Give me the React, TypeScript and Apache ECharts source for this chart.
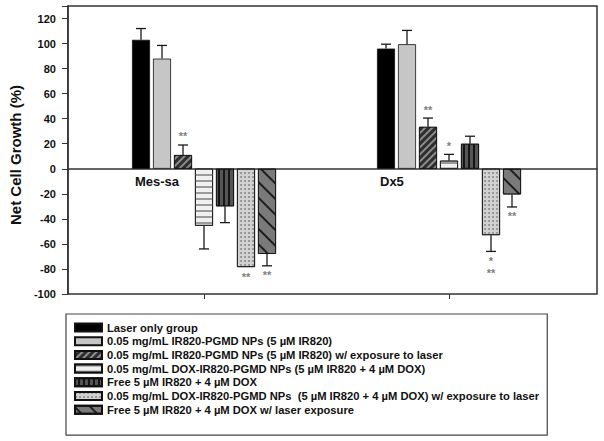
import React, { useEffect, useRef } from 'react';
import * as echarts from 'echarts';

const FONT = 'Arial, "Liberation Sans", Helvetica, sans-serif';

const categories = ['Mes-sa', 'Dx5'];
const seriesNames = [
  'Laser only group',
  '0.05 mg/mL IR820-PGMD NPs (5 µM IR820)',
  '0.05 mg/mL IR820-PGMD NPs (5 µM IR820) w/ exposure to laser',
  '0.05 mg/mL DOX-IR820-PGMD NPs (5 µM IR820 + 4 µM DOX)',
  'Free 5 µM IR820 + 4 µM DOX',
  '0.05 mg/mL DOX-IR820-PGMD NPs  (5 µM IR820 + 4 µM DOX) w/ exposure to laser',
  'Free 5 µM IR820 + 4 µM DOX w/ laser exposure',
];
const messaValues = [103, 88, 11, -45.5, -30, -78.5, -68];
const dx5Values = [96, 99.5, 33.5, 6.5, 20, -53, -20.5];
const messaErrors = [9, 10.5, 8, 18.5, 13, 0, 9.5];
const dx5Errors = [3.5, 11, 7, 5, 6, 13, 10];
const messaSig = ['', '', '**', '', '', '**', '**'];
const dx5Sig = ['', '', '**', '*', '', '*\n**', '**'];
const yMin = -100;
const yMax = 130;
const yInterval = 20;
const yLabelMax = 120;

const groupValues = [messaValues, dx5Values];
const groupErrors = [messaErrors, dx5Errors];
const groupSig = [messaSig, dx5Sig];

const BAR_W = 18;
const BAR_GAP = 3;

const seriesStyles: any[] = [
  { color: '#000000' },
  { color: '#c6c6c6' },
  {
    color: '#2e2e2e',
    decal: { symbol: 'rect', symbolSize: 1, color: '#8c8c8c', dashArrayX: [1, 0], dashArrayY: [1.5, 2.5], rotation: -Math.PI / 4 },
  },
  {
    color: '#f0f0f0',
    decal: { symbol: 'rect', symbolSize: 1, color: '#9a9a9a', dashArrayX: [1, 0], dashArrayY: [1.5, 3.5], rotation: 0 },
  },
  {
    color: '#555555',
    decal: { symbol: 'rect', symbolSize: 1, color: '#151515', dashArrayX: [1, 0], dashArrayY: [1.5, 2.5], rotation: Math.PI / 2 },
  },
  {
    color: '#d2d2d2',
    decal: { symbol: 'circle', symbolSize: 1, color: '#8e8e8e', dashArrayX: [1.6, 1.8], dashArrayY: [1.6, 1.8] },
  },
  {
    color: '#7a7a7a',
    decal: { symbol: 'rect', symbolSize: 1, color: '#1e1e1e', dashArrayX: [1, 0], dashArrayY: [1.5, 9], rotation: Math.PI / 4 },
  },
];

export default function App() {
  const ref = useRef<HTMLDivElement>(null);
  useEffect(() => {
    const chart = echarts.init(ref.current!, null, { renderer: 'svg' });

    const barSeries = seriesNames.map((name, i) => ({
      name,
      type: 'bar',
      xAxisIndex: 1,
      yAxisIndex: 1,
      data: groupValues.map((g) => g[i]),
      barWidth: BAR_W,
      barGap: `${(BAR_GAP / BAR_W) * 100}%`,
      itemStyle: {
        color: seriesStyles[i].color,
        decal: seriesStyles[i].decal || null,
        borderColor: '#111',
        borderWidth: 0.8,
      },
      z: 3,
    }));

    const errData: number[][] = [];
    groupValues.forEach((g, gi) => {
      g.forEach((v, si) => {
        errData.push([gi, si, v, groupErrors[gi][si]]);
      });
    });

    const errSeries = {
      type: 'custom',
      xAxisIndex: 1,
      yAxisIndex: 1,
      data: errData,
      encode: { x: 0, y: 2 },
      z: 5,
      renderItem: (params: any, api: any) => {
        const g = api.value(0);
        const s = api.value(1);
        const v = api.value(2);
        const e = api.value(3);
        const sign = v >= 0 ? 1 : -1;
        const c0 = api.coord([g, v]);
        const c1 = api.coord([g, v + sign * e]);
        const x = c0[0] + (s - 3) * (BAR_W + BAR_GAP);
        const children: any[] = [];
        if (e > 0) {
          children.push({
            type: 'line',
            shape: { x1: x, y1: c0[1], x2: x, y2: c1[1] },
            style: { stroke: '#1a1a1a', lineWidth: 1.3 },
          });
          children.push({
            type: 'line',
            shape: { x1: x - 5, y1: c1[1], x2: x + 5, y2: c1[1] },
            style: { stroke: '#1a1a1a', lineWidth: 1.3 },
          });
        }
        const sig = groupSig[g][s];
        if (sig) {
          const lines = sig.split('\n');
          lines.forEach((line, li) => {
            const y =
              sign > 0
                ? c1[1] - 4 - (lines.length - 1 - li) * 12
                : c1[1] + 5 + li * 12;
            children.push({
              type: 'text',
              x,
              y,
              style: {
                text: line,
                fill: '#808080',
                font: `bold 11px ${FONT}`,
                align: 'center',
                verticalAlign: sign > 0 ? 'bottom' : 'top',
                lineHeight: 9,
              },
            });
          });
        }
        return { type: 'group', children };
      },
    };

    const labelSeries = {
      type: 'custom',
      xAxisIndex: 1,
      yAxisIndex: 1,
      data: categories.map((c, i) => [i, 0]),
      encode: { x: 0, y: 1 },
      z: 6,
      renderItem: (params: any, api: any) => {
        const c = api.coord([api.value(0), 0]);
        const n = seriesNames.length;
        const total = n * BAR_W + (n - 1) * BAR_GAP;
        return {
          type: 'text',
          x: c[0] - total / 2 + 3,
          y: c[1] + 13,
          style: {
            text: categories[params.dataIndex],
            fill: '#111',
            font: `bold 13px ${FONT}`,
            align: 'left',
            verticalAlign: 'middle',
          },
        };
      },
    };

    const option: any = {
      animation: false,
      backgroundColor: '#ffffff',
      textStyle: { fontFamily: FONT },
      grid: [
        { left: 57, right: 7, top: 6, bottom: 147, show: true, borderColor: '#333', borderWidth: 1.5, backgroundColor: 'transparent' },
        { left: 81.5, right: 32.5, top: 6, bottom: 147 },
      ],
      xAxis: [
        {
          gridIndex: 0,
          type: 'value',
          min: 0,
          max: 1,
          axisLine: { show: true, onZero: true, lineStyle: { color: '#333', width: 1.5 } },
          axisTick: { show: false },
          axisLabel: { show: false },
          splitLine: { show: false },
        },
        {
          gridIndex: 1,
          type: 'category',
          data: categories,
          position: 'bottom',
          axisLine: { show: false, onZero: false },
          axisTick: { show: true, alignWithLabel: true, length: 5, lineStyle: { color: '#333', width: 1 } },
          axisLabel: { show: false },
          splitLine: { show: false },
        },
      ],
      yAxis: [
        {
          gridIndex: 0,
          type: 'value',
          min: yMin,
          max: yMax,
          interval: yInterval,
          name: 'Net Cell Growth (%)',
          nameLocation: 'middle',
          nameGap: 37,
          nameTextStyle: { fontSize: 15, fontWeight: 'bold', color: '#111', fontFamily: FONT, padding: [0, 10, 0, 0] },
          axisLine: { show: true, lineStyle: { color: '#333', width: 1.5 } },
          axisTick: { show: true, length: 6, lineStyle: { color: '#333', width: 1 } },
          axisLabel: {
            fontSize: 11,
            fontWeight: 'bold',
            color: '#111',
            fontFamily: FONT,
            margin: 12,
            formatter: (v: number) => (v > yLabelMax ? '' : String(v)),
          },
          splitLine: { show: false },
        },
        {
          gridIndex: 1,
          type: 'value',
          min: yMin,
          max: yMax,
          show: false,
          splitLine: { show: false },
        },
      ],
      legend: {
        orient: 'vertical',
        left: 66,
        top: 314,
        data: seriesNames,
        itemWidth: 27,
        itemHeight: 8,
        itemGap: 2.7,
        padding: [8, 8, 20, 8],
        borderColor: '#444',
        borderWidth: 1.2,
        selectedMode: false,
        icon: 'rect',
        textStyle: { fontSize: 11.2, fontWeight: 'bold', color: '#111', fontFamily: FONT },
      },
      series: [...barSeries, errSeries, labelSeries],
    };

    chart.setOption(option);
    return () => chart.dispose();
  }, []);
  return (
    <div
      ref={ref}
      style={{ position: 'fixed', left: 0, top: 0, width: 604, height: 441, background: '#fff' }}
    />
  );
}
